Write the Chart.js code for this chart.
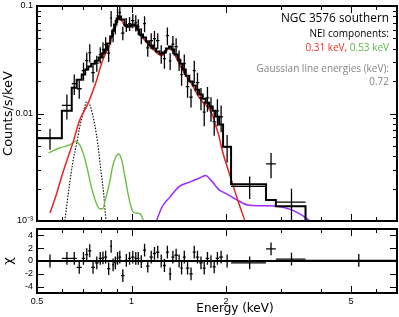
<!DOCTYPE html>
<html>
<head>
<meta charset="utf-8">
<script src="https://cdn.jsdelivr.net/npm/chart.js@4.4.1/dist/chart.umd.min.js"></script>
<style>
  html, body { margin: 0; padding: 0; background: #fff; }
  #wrap { position: relative; width: 399px; height: 317px; overflow: hidden; }
  canvas { position: absolute; left: 0; }
  #spec { top: 0; }
  #resid { top: 224px; }
  .note { position: absolute; right: 10px; font-family: "Open Sans", sans-serif; white-space: nowrap; text-align: right; }
  #xlabel { position: absolute; left: 235px; top: 301px; transform: translateX(-50%); font: 12px/14px "DejaVu Sans", sans-serif; color: #000; white-space: nowrap; }
</style>
</head>
<body>
<div id="wrap">
  <canvas id="spec" width="399" height="227"></canvas>
  <canvas id="resid" width="399" height="93"></canvas>
  <div class="note" style="top:10px; font-size:11.8px; line-height:15px; color:#000;">NGC 3576 southern</div>
  <div class="note" style="top:27px; font-size:10px; line-height:12px; color:#000;">NEI components:</div>
  <div class="note" style="top:41px; font-size:10px; line-height:12px;"><span style="color:#e8322c;">0.31 keV,</span> <span style="color:#5cb84a;">0.53 keV</span></div>
  <div class="note" style="top:62px; font-size:10px; line-height:12px; color:#858585;">Gaussian line energies (keV):</div>
  <div class="note" style="top:75px; font-size:10px; line-height:12px; color:#858585;">0.72</div>
  <div id="xlabel">Energy (keV)</div>
</div>
<script>
'use strict';

// spectral bins, keV edges
const binEdges = [0.5, 0.6, 0.645, 0.669, 0.694, 0.712, 0.728, 0.744, 0.764, 0.786, 0.804, 0.818, 0.836, 0.855,
  0.867, 0.88, 0.896, 0.909, 0.926, 0.95, 0.975, 0.996, 1.022, 1.041, 1.06, 1.088, 1.112, 1.14, 1.17, 1.196,
  1.227, 1.259, 1.286, 1.315, 1.339, 1.369, 1.404, 1.43, 1.456, 1.488, 1.527, 1.566, 1.601, 1.642, 1.685,
  1.722, 1.767, 1.813, 1.853, 1.9, 1.956, 2.074, 2.68, 2.88, 3.58, 7.0];

// counts/s/keV per bin
const counts = [0.0059, 0.0119, 0.0190, 0.0170, 0.0250, 0.0310, 0.0369, 0.0240, 0.0294, 0.0353,
  0.0393, 0.0438, 0.0365, 0.0770, 0.0540, 0.0644, 0.0815, 0.0870, 0.0560, 0.0672,
  0.0687, 0.0732, 0.0700, 0.0644, 0.0531, 0.0687, 0.0407, 0.0477, 0.0498, 0.0477,
  0.0361, 0.0324, 0.0531, 0.0309, 0.0441, 0.0419, 0.0317, 0.0230, 0.0291, 0.0178,
  0.0142, 0.0250, 0.0194, 0.0140, 0.0103, 0.0140, 0.0113, 0.0084, 0.0106, 0.0093,
  0.0049, 0.0021, 0.0034, 0.0015, 0.00045];

const countErr = [0.0013, 0.0031, 0.0041, 0.0033, 0.0048, 0.0060, 0.0071, 0.0046, 0.0050, 0.0061,
  0.0067, 0.0075, 0.0063, 0.0130, 0.0081, 0.0097, 0.0122, 0.0130, 0.0080, 0.0100,
  0.0103, 0.0110, 0.0120, 0.0110, 0.0091, 0.0118, 0.0070, 0.0082, 0.0086, 0.0082,
  0.0070, 0.0063, 0.0100, 0.0055, 0.0085, 0.0081, 0.0068, 0.0049, 0.0062, 0.0038,
  0.0028, 0.0059, 0.0046, 0.0033, 0.0027, 0.0036, 0.0029, 0.0022, 0.0030, 0.0026,
  0.0014, 0.0005, 0.0009, 0.0005, 0.0004];

// folded total model per bin
const modelCounts = [0.0059, 0.0106, 0.0174, 0.0206, 0.0230, 0.0256, 0.0273, 0.0291, 0.0310, 0.0331,
  0.0361, 0.0393, 0.0448, 0.0520, 0.0590, 0.0672, 0.0765, 0.0798, 0.0748, 0.0658,
  0.0644, 0.0672, 0.0658, 0.0604, 0.0542, 0.0509, 0.0467, 0.0428, 0.0402, 0.0377,
  0.0361, 0.0369, 0.0402, 0.0419, 0.0393, 0.0353, 0.0317, 0.0291, 0.0256, 0.0225,
  0.0198, 0.0182, 0.0166, 0.0150, 0.0137, 0.0126, 0.0116, 0.0106, 0.0094, 0.0079,
  0.0049, 0.0022, 0.00157, 0.00137, 0.0004];

// residuals (chi)
const chi = [0.0, 0.4, 0.4, -1.0, 0.4, 1.0, 1.6, -1.0, -0.3, 0.4,
  0.5, 0.6, -1.2, 2.3, -0.6, -0.3, 0.4, 0.6, -2.3, 0.1,
  0.4, 0.6, 0.4, 0.4, -0.1, 1.7, -0.8, 0.6, 1.2, 1.4,
  0.0, -0.7, 1.4, -2.0, 0.6, 0.9, 0.0, -1.1, 0.6, -1.1,
  -2.0, 1.4, 0.6, -0.3, -1.1, 0.4, -0.1, -0.9, 0.4, 0.6,
  0.0, -0.3, 1.9, 0.3, 0.1];

// model components
const nei031E = [0.55, 0.574, 0.604, 0.627, 0.65, 0.684, 0.724, 0.752, 0.775, 0.804, 0.827, 0.852, 0.868, 0.889,
  0.909, 0.93, 0.95, 0.971, 0.993, 1.015, 1.044, 1.084, 1.124, 1.166, 1.209, 1.245, 1.282, 1.32, 1.348, 1.388,
  1.451, 1.504, 1.561, 1.607, 1.679, 1.742, 1.806, 1.859, 1.9, 1.942, 2.015, 2.089, 2.167, 2.297];
const nei031 = [0.00119, 0.0017, 0.0028, 0.0039, 0.0053, 0.0087, 0.0121, 0.016, 0.0206, 0.0297, 0.0361, 0.0438,
  0.0531, 0.0672, 0.0748, 0.0732, 0.0658, 0.063, 0.0658, 0.0658, 0.0604, 0.0509, 0.0448, 0.0402, 0.0361, 0.0345,
  0.0369, 0.041, 0.0393, 0.0331, 0.0256, 0.0216, 0.0185, 0.0156, 0.0129, 0.0116, 0.0098, 0.0075, 0.0061, 0.0046,
  0.0032, 0.0023, 0.00164, 0.001];

const nei053E = [0.544, 0.592, 0.636, 0.664, 0.684, 0.705, 0.724, 0.744, 0.77, 0.792, 0.81, 0.826, 0.852, 0.868,
  0.889, 0.909, 0.93, 0.95, 0.971, 0.993, 1.015, 1.044, 1.068, 1.084, 1.11];
const nei053 = [0.0043, 0.0048, 0.0051, 0.0055, 0.0051, 0.0041, 0.0030, 0.0021, 0.0015, 0.0013, 0.0013, 0.0016,
  0.0023, 0.0031, 0.0039, 0.0042, 0.0037, 0.0027, 0.0019, 0.0014, 0.0012, 0.00118, 0.00116, 0.00106, 0.00096];

const gaussE = [0.613, 0.632, 0.65, 0.669, 0.684, 0.705, 0.72, 0.736, 0.752, 0.764, 0.78, 0.797, 0.815, 0.827, 0.833];
const gauss = [0.001, 0.002, 0.0035, 0.0053, 0.0075, 0.0108, 0.0129, 0.0121, 0.0097, 0.0078, 0.0053, 0.0031,
  0.0018, 0.0011, 0.00095];

const hardE = [1.2, 1.25, 1.32, 1.42, 1.53, 1.64, 1.72, 1.8, 1.9, 2.0, 2.14, 2.37, 2.84, 3.24, 3.7, 3.8];
const hard = [0.001, 0.00135, 0.00165, 0.0021, 0.0023, 0.0025, 0.00265, 0.00235, 0.00195, 0.0018, 0.0016,
  0.0014, 0.00138, 0.00127, 0.001, 0.00092];

// ticks
const xMajor = [0.5, 1, 2, 5];
const xLabels = ['0.5', '1', '2', '5'];
const xMinor = [0.6, 0.7, 0.8, 0.9, 3, 4, 6, 7];
const yMajor = [0.001, 0.01, 0.1];
const yLabels = ['10⁻³', '0.01', '0.1'];
const yMinor = [0.002, 0.003, 0.004, 0.005, 0.006, 0.007, 0.008, 0.009,
  0.02, 0.03, 0.04, 0.05, 0.06, 0.07, 0.08, 0.09];
const chiTicks = [-4, -2, 0, 2, 4];

const RED = '#e8231f';
const GREEN = '#6cbd45';
const PURPLE = '#9b2bff';

const centers = binEdges.slice(0, -1).map((lo, i) => (lo + binEdges[i + 1]) / 2);

function stepLine(values) {
  const pts = [];
  values.forEach((v, i) => {
    pts.push({ x: binEdges[i], y: v }, { x: binEdges[i + 1], y: v });
  });
  return pts;
}

function vBars(values, errs) {
  const pts = [];
  values.forEach((v, i) => {
    pts.push({ x: centers[i], y: v - errs[i] }, { x: centers[i], y: v + errs[i] }, { x: centers[i], y: null });
  });
  return pts;
}

function hBars(values) {
  const pts = [];
  values.forEach((v, i) => {
    pts.push({ x: binEdges[i], y: v }, { x: binEdges[i + 1], y: v }, { x: binEdges[i + 1], y: null });
  });
  return pts;
}

function curve(es, vs) {
  return es.map((e, i) => ({ x: e, y: vs[i] }));
}

function line(data, color, width, extra) {
  return Object.assign({ data, borderColor: color, borderWidth: width, pointRadius: 0, fill: false, spanGaps: false }, extra || {});
}

// fixed axis sizes so both panels line up; no extra label padding
function fixWidth(s) {
  s.width = 37;
  s.paddingTop = 0;
  s.paddingBottom = 0;
}
function fixHeight(s) {
  s.height = 24;
  s.paddingLeft = 0;
  s.paddingRight = 0;
}

// frame with inward ticks on all four sides
const framePlugin = {
  id: 'frame',
  afterDraw(chart, args, opts) {
    const { ctx, chartArea: a } = chart;
    const xs = chart.scales.x;
    const ys = chart.scales.y;
    ctx.save();
    ctx.strokeStyle = '#000';
    ctx.lineWidth = 1;
    ctx.beginPath();
    const xt = (vals, len) => vals.forEach((v) => {
      const px = Math.round(xs.getPixelForValue(v)) + 0.5;
      ctx.moveTo(px, a.top); ctx.lineTo(px, a.top + len);
      ctx.moveTo(px, a.bottom); ctx.lineTo(px, a.bottom - len);
    });
    const yt = (vals, len) => vals.forEach((v) => {
      const py = Math.round(ys.getPixelForValue(v)) + 0.5;
      ctx.moveTo(a.left, py); ctx.lineTo(a.left + len, py);
      ctx.moveTo(a.right, py); ctx.lineTo(a.right - len, py);
    });
    xt(opts.xMajor, 7);
    xt(opts.xMinor, 4);
    yt(opts.yMajor, 7);
    yt(opts.yMinor, 4);
    ctx.stroke();
    ctx.lineWidth = 2;
    ctx.strokeRect(a.left, a.top, a.right - a.left, a.bottom - a.top);
    ctx.restore();
  },
};

const tickFont = { family: '"Liberation Sans", Arial, sans-serif', size: 9 };
const titleFont = { family: '"DejaVu Sans", sans-serif', size: 13 };

const common = {
  responsive: false,
  animation: false,
  devicePixelRatio: 1,
  events: [],
  elements: { point: { radius: 0 }, line: { tension: 0 } },
};

// Spectrum panel
new Chart(document.getElementById('spec'), {
  type: 'line',
  data: {
    datasets: [
      line(stepLine(modelCounts), '#000', 2),
      line(vBars(counts, countErr), '#000', 1.3),
      line(hBars(counts), '#000', 1.3),
      line(curve(nei031E, nei031), RED, 1.5, { cubicInterpolationMode: 'monotone' }),
      line(curve(nei053E, nei053), GREEN, 1.4, { cubicInterpolationMode: 'monotone' }),
      line(curve(gaussE, gauss), '#000', 1.1, { borderDash: [1.5, 1.5], cubicInterpolationMode: 'monotone' }),
      line(curve(hardE, hard), PURPLE, 1.5, { cubicInterpolationMode: 'monotone' }),
    ],
  },
  options: Object.assign({}, common, {
    layout: { padding: { left: 0, right: 2, top: 6, bottom: 6 } },
    plugins: {
      legend: { display: false },
      tooltip: { enabled: false },
      frame: { xMajor, xMinor, yMajor, yMinor },
    },
    scales: {
      x: { type: 'logarithmic', min: 0.5, max: 7, display: false },
      y: {
        type: 'logarithmic',
        min: 0.001,
        max: 0.1,
        afterFit: fixWidth,
        afterBuildTicks: (s) => { s.ticks = yMajor.map((v) => ({ value: v })); },
        grid: { display: false, drawTicks: false },
        border: { display: false },
        ticks: { autoSkip: false, padding: 4, color: '#000', font: tickFont, callback: (v, i) => yLabels[i] },
        title: { display: true, text: 'Counts/s/keV', color: '#000', font: titleFont, padding: { top: 1, bottom: 0 } },
      },
    },
  }),
  plugins: [framePlugin],
});

// Residual panel
new Chart(document.getElementById('resid'), {
  type: 'line',
  data: {
    datasets: [
      line(stepLine(chi.map(() => 0)), '#000', 2),
      line(vBars(chi, chi.map(() => 1)), '#000', 1.3),
      line(hBars(chi), '#000', 1.3),
    ],
  },
  options: Object.assign({}, common, {
    layout: { padding: { left: 0, right: 2, top: 5, bottom: 0 } },
    plugins: {
      legend: { display: false },
      tooltip: { enabled: false },
      frame: { xMajor, xMinor, yMajor: chiTicks, yMinor: [] },
    },
    scales: {
      x: {
        type: 'logarithmic',
        min: 0.5,
        max: 7,
        afterFit: fixHeight,
        afterBuildTicks: (s) => { s.ticks = xMajor.map((v) => ({ value: v })); },
        grid: { display: false, drawTicks: false },
        border: { display: false },
        ticks: { autoSkip: false, maxRotation: 0, padding: 3, color: '#000', font: tickFont, callback: (v, i) => xLabels[i] },
      },
      y: {
        type: 'linear',
        min: -5,
        max: 5,
        afterFit: fixWidth,
        afterBuildTicks: (s) => { s.ticks = chiTicks.map((v) => ({ value: v })); },
        grid: { display: false, drawTicks: false },
        border: { display: false },
        ticks: { autoSkip: false, padding: 4, color: '#000', font: tickFont },
        title: { display: true, text: 'χ', color: '#000', font: titleFont, padding: { top: 1, bottom: 0 } },
      },
    },
  }),
  plugins: [framePlugin],
});
</script>
</body>
</html>
